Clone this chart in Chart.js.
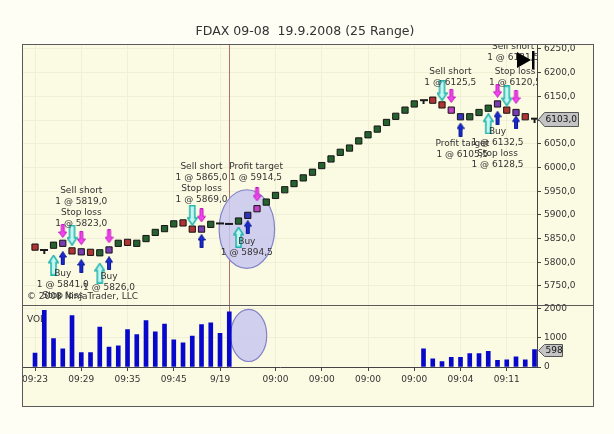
<!DOCTYPE html>
<html>
<head>
<meta charset="utf-8">
<script src="https://cdn.jsdelivr.net/npm/chart.js@4/dist/chart.umd.min.js"></script>
<style>
html,body{margin:0;padding:0;background:#fefef4;}
#wrap{width:614px;height:434px;}
</style>
</head>
<body>
<div id="wrap"><canvas id="c" width="614" height="434" style="width:614px;height:434px"></canvas></div>
<script>
// ---------------- data ----------------
const chartTitle = 'FDAX 09-08  19.9.2008 (25 Range)';
// range-bar closes (one per bar index 0..54)
const barPrice = [5832,5826,5836,5840,5824,5822,5821,5820,5826,5840,
                  5842,5840,5850,5863,5871,5881,5883,5870,5870,5880,
                  5882,5881,5887,5899,5913,5927,5941,5953,5966,5978,
                  5990,6004,6018,6032,6041,6056,6069,6081,6095,6108,
                  6121,6134,6142,6142,6132,6121,6107,6107,6116,6125,
                  6134,6121,6116,6107,6103];
// g=up, r=down, p/b/m=bar under execution marks, d=T doji, h=flat dash
const barKind = ['r','d','g','p','r','p','r','g','p','g',
                 'r','g','g','g','g','g','r','r','p','g',
                 'h','h','g','b','m','g','g','g','g','g',
                 'g','g','g','g','g','g','g','g','g','g',
                 'g','g','d','r','r','m','b','g','g','g',
                 'p','r','p','r','d'];
const volume = [480,1950,980,630,1770,500,500,1380,690,730,
                1290,1120,1600,1210,1480,940,830,1070,1460,1520,
                1160,1900,null,null,null,null,null,null,null,null,
                null,null,null,null,null,null,null,null,null,null,
                null,null,630,280,190,330,330,460,460,540,
                230,250,350,250,598];
const timeTickIdx = [0,5,10,15,20,26,31,36,41,46,51];
const timeTickLabels = ['09:23','09:29','09:35','09:45','9/19','09:00','09:00','09:00','09:00','09:04','09:11'];
const priceTicks = [5750,5800,5850,5900,5950,6000,6050,6100,6150,6200,6250];
const volTicks = [0,1000,2000];
const sessionBreakIdx = 21;
const lastPrice = 6103.0;
const lastVolume = 598;

// execution marks
const entryBuyIdx = [2,7,22,49];
const entryBuyPrice = [5794,5777,5853,6092];
const entryShortIdx = [4,17,44,51];
const entryShortPrice = [5857,5899,6162,6151];
const exitSellIdx = [3,5,8,18,24,45,50,52];
const exitSellPrice = [5866,5851,5855,5899,5943,6151,6162,6149];
const exitBuyIdx = [3,5,8,18,23,46,50,52];
const exitBuyPrice = [5809,5792,5798,5845,5874,6080,6105,6095];

// order notes (anchor bar index, price of first line, lines)
const noteIdx = [5,3,8,18,23.9,22.9,44.9,51.7,51.9,46.2,50];
const notePrice = [5952,5777,5769,6001,6001,5843,6203,6254,6203,6050,6075];
const noteLines = [
  ['Sell short','1 @ 5819,0','Stop loss','1 @ 5823,0'],
  ['Buy','1 @ 5841,0','Stop loss'],
  ['Buy','1 @ 5826,0'],
  ['Sell short','1 @ 5865,0','Stop loss','1 @ 5869,0'],
  ['Profit target','1 @ 5914,5'],
  ['Buy','1 @ 5894,5'],
  ['Sell short','1 @ 6125,5'],
  ['Sell short','1 @ 6131,5'],
  ['Stop loss','1 @ 6120,5'],
  ['Profit target','1 @ 6105,5'],
  ['Buy','1 @ 6132,5','Stop loss','1 @ 6128,5']
];
// highlight ellipses: centre index, centre value, half-width (bars), half-height (value units)
const priceEllipse = [22.9, 5870, 3.0, 83];
const volEllipse = [23.1, 1090, 1.95, 900];

// ---------------- drawing helpers ----------------
function arrowImg(dir, w, h, headH, shaftW, fill, stroke, lw) {
  const c = document.createElement('canvas'); c.width = w; c.height = h;
  const g = c.getContext('2d');
  if (dir === 'down') { g.translate(0, h); g.scale(1, -1); }
  const cx = w / 2, m = lw / 2;
  g.beginPath();
  g.moveTo(cx, m);
  g.lineTo(w - m, headH);
  g.lineTo(cx + shaftW / 2, headH);
  g.lineTo(cx + shaftW / 2, h - m);
  g.lineTo(cx - shaftW / 2, h - m);
  g.lineTo(cx - shaftW / 2, headH);
  g.lineTo(m, headH);
  g.closePath();
  g.fillStyle = fill; g.fill();
  g.strokeStyle = stroke; g.lineWidth = lw; g.stroke();
  return c;
}
function tImg(withStem) {
  const c = document.createElement('canvas'); c.width = 8; c.height = 8;
  const g = c.getContext('2d');
  g.fillStyle = '#1a1a1a';
  g.fillRect(0, 3, 8, 2);
  if (withStem) g.fillRect(3, 3, 2, 5);
  return c;
}
const imgBuy = arrowImg('up', 11, 21, 8, 5, '#c4f6f2', '#1fb3ad', 1.5);
const imgShort = arrowImg('down', 11, 21, 8, 5, '#c4f6f2', '#1fb3ad', 1.5);
const imgSell = arrowImg('down', 9, 14, 6, 3, '#f244ee', '#c21cc0', 1);
const imgBuyExit = arrowImg('up', 8, 14, 6, 3, '#1a2ad0', '#0b168e', 1);
const imgT = tImg(true);
const imgDash = tImg(false);
const kindColor = {g:'#266230', r:'#b03434', p:'#7a3cb2', b:'#3434b8', m:'#c340c4'};

const pts = (idx, vals) => idx.map((v, k) => ({x: v, y: vals[k]}));

const decoPlugin = {
  id: 'deco',
  beforeDraw(chart) {
    const {ctx, width, height, chartArea: a} = chart;
    ctx.save();
    ctx.fillStyle = '#fefef4'; ctx.fillRect(0, 0, width, height);
    ctx.fillStyle = '#fbfbe4';
    ctx.fillRect(a.left - 1, a.top - 1, a.right + 56 - a.left + 1, a.bottom + 39 - a.top + 1);
    ctx.restore();
  },
  beforeDatasetsDraw(chart) {
    const {ctx, chartArea: a, scales: {x, y, yv}} = chart;
    ctx.save();
    // session break line
    const sx = Math.round(x.getPixelForValue(sessionBreakIdx)) + 0.5;
    ctx.strokeStyle = '#b36f6f'; ctx.lineWidth = 1;
    ctx.beginPath(); ctx.moveTo(sx, a.top); ctx.lineTo(sx, a.bottom + 1); ctx.stroke();
    // ellipses
    const ell = (sc, e) => {
      const cx = x.getPixelForValue(e[0]), cy = sc.getPixelForValue(e[1]);
      const rx = Math.abs(x.getPixelForValue(e[0] + e[2]) - cx);
      const ry = Math.abs(sc.getPixelForValue(e[1] + e[3]) - cy);
      ctx.beginPath(); ctx.ellipse(cx, cy, rx, ry, 0, 0, Math.PI * 2);
      ctx.fillStyle = 'rgba(200,200,240,0.85)'; ctx.fill();
      ctx.strokeStyle = '#8282c8'; ctx.lineWidth = 1.2; ctx.stroke();
    };
    ell(y, priceEllipse);
    ell(yv, volEllipse);
    // VOL caption
    ctx.font = '9px "DejaVu Sans"'; ctx.fillStyle = '#333';
    ctx.textAlign = 'left'; ctx.textBaseline = 'middle';
    ctx.fillText('VOL', a.left + 4, yv.top + 15);
    ctx.restore();
  },
  afterDatasetsDraw(chart) {
    const {ctx, chartArea: a, scales: {x, y}} = chart;
    ctx.save();
    ctx.beginPath(); ctx.rect(a.left, a.top, a.right - a.left, y.bottom - a.top); ctx.clip();
    ctx.font = '9px "DejaVu Sans"'; ctx.fillStyle = '#333';
    ctx.textAlign = 'left'; ctx.textBaseline = 'middle';
    ctx.fillText('\u00A9 2008 NinjaTrader, LLC', a.left + 4, y.bottom - 7.5);
    ctx.textAlign = 'center';
    noteIdx.forEach((ix, k) => {
      const px = x.getPixelForValue(ix), py = y.getPixelForValue(notePrice[k]);
      noteLines[k].forEach((t, j) => ctx.fillText(t, px, py + j * 11));
    });
    ctx.restore();
  },
  afterDraw(chart) {
    const {ctx, chartArea: a, scales: {y, yv}} = chart;
    const L = a.left - 0.5, T = a.top - 0.5, R = a.right + 56 + 0.5, B = a.bottom + 39 + 0.5;
    ctx.save();
    ctx.strokeStyle = '#5a5a5a'; ctx.lineWidth = 1;
    ctx.strokeRect(L, T, R - L, B - T);
    const sy = Math.round(y.bottom) + 0.5;
    ctx.beginPath(); ctx.moveTo(L, sy); ctx.lineTo(R, sy); ctx.stroke();
    // chart-end marker
    ctx.fillStyle = '#000';
    ctx.beginPath();
    ctx.moveTo(a.right - 20, a.top + 7); ctx.lineTo(a.right - 20, a.top + 23); ctx.lineTo(a.right - 6, a.top + 15);
    ctx.closePath(); ctx.fill();
    ctx.fillRect(a.right - 5, a.top + 6, 2.5, 18);
    // last value tags
    const tag = (sc, v, text, w, h) => {
      const cy = Math.round(sc.getPixelForValue(v)) + 0.5, x0 = a.right + 1.5;
      ctx.beginPath();
      ctx.moveTo(x0, cy); ctx.lineTo(x0 + 6, cy - h / 2); ctx.lineTo(x0 + w, cy - h / 2);
      ctx.lineTo(x0 + w, cy + h / 2); ctx.lineTo(x0 + 6, cy + h / 2); ctx.closePath();
      ctx.fillStyle = '#c4c4c4'; ctx.fill();
      ctx.strokeStyle = '#555'; ctx.stroke();
      ctx.fillStyle = '#111'; ctx.font = '9px "DejaVu Sans"';
      ctx.textAlign = 'left'; ctx.textBaseline = 'middle';
      ctx.fillText(text, x0 + 7, cy + 0.5);
    };
    tag(y, lastPrice, lastPrice.toFixed(1).replace('.', ','), 40, 14);
    tag(yv, lastVolume, String(lastVolume), 24, 12);
    // title
    ctx.fillStyle = '#333'; ctx.font = '12.5px "DejaVu Sans"';
    ctx.textAlign = 'center'; ctx.textBaseline = 'middle';
    ctx.fillText(chartTitle, 305, 32);
    ctx.restore();
  }
};

Chart.defaults.font.family = '"DejaVu Sans", sans-serif';
Chart.defaults.font.size = 9;
Chart.defaults.color = '#333';

const gridCol = '#f0f0d7';
new Chart(document.getElementById('c'), {
  type: 'line',
  data: {
    datasets: [
      {label: 'Buy', data: pts(entryBuyIdx, entryBuyPrice), yAxisID: 'y', showLine: false, order: 1,
       pointStyle: imgBuy, pointRadius: 5, pointHoverRadius: 5},
      {label: 'Sell short', data: pts(entryShortIdx, entryShortPrice), yAxisID: 'y', showLine: false, order: 1,
       pointStyle: imgShort, pointRadius: 5, pointHoverRadius: 5},
      {label: 'Exit sell', data: pts(exitSellIdx, exitSellPrice), yAxisID: 'y', showLine: false, order: 2,
       pointStyle: imgSell, pointRadius: 5, pointHoverRadius: 5},
      {label: 'Exit buy', data: pts(exitBuyIdx, exitBuyPrice), yAxisID: 'y', showLine: false, order: 2,
       pointStyle: imgBuyExit, pointRadius: 5, pointHoverRadius: 5},
      {label: 'FDAX', data: barPrice.map((p, i) => ({x: i, y: p})), yAxisID: 'y', showLine: false, order: 5,
       pointStyle: c => barKind[c.dataIndex] === 'd' ? imgT : (barKind[c.dataIndex] === 'h' ? imgDash : 'rect'),
       pointRadius: 4.4, pointHoverRadius: 4.4, pointBorderWidth: 1, pointBorderColor: '#141414',
       pointBackgroundColor: c => kindColor[barKind[c.dataIndex]] || '#222'},
      {type: 'bar', label: 'VOL', yAxisID: 'yv', order: 6,
       data: volume.map((v, i) => v == null ? null : {x: i, y: v}).filter(Boolean),
       backgroundColor: '#0808cc', barThickness: 4}
    ]
  },
  options: {
    responsive: false, animation: false, devicePixelRatio: 1,
    layout: {padding: {left: 23, top: 45, right: 21, bottom: 28}},
    plugins: {legend: {display: false}, tooltip: {enabled: false}, title: {display: false}},
    scales: {
      x: {type: 'linear', position: 'bottom', min: -1.3, max: 54.27, offset: false,
          afterBuildTicks: s => { s.ticks = timeTickIdx.map(v => ({value: v})); },
          afterFit: s => { s.height = 39; },
          ticks: {autoSkip: false, maxRotation: 0, minRotation: 0, padding: 3, color: '#333',
                  callback: v => { const k = timeTickIdx.indexOf(v); return k >= 0 ? timeTickLabels[k] : ''; }},
          grid: {color: gridCol, tickColor: '#444', tickLength: 4, offset: false},
          border: {color: '#444'}},
      y: {type: 'linear', position: 'right', stack: 'panes', stackWeight: 259.5, min: 5710.9, max: 6258.4,
          afterBuildTicks: s => { s.ticks = priceTicks.map(v => ({value: v})); },
          afterFit: s => { s.width = 56; },
          ticks: {autoSkip: false, padding: 3, color: '#333', callback: v => v.toFixed(1).replace('.', ',')},
          grid: {color: gridCol, tickColor: '#444', tickLength: 4},
          border: {color: '#444'}},
      yv: {type: 'linear', position: 'right', stack: 'panes', stackWeight: 62.5, min: 0, max: 2155,
          afterBuildTicks: s => { s.ticks = volTicks.map(v => ({value: v})); },
          afterFit: s => { s.width = 56; },
          ticks: {autoSkip: false, padding: 3, color: '#333', callback: v => String(v)},
          grid: {color: gridCol, tickColor: '#444', tickLength: 4},
          border: {color: '#444'}}
    }
  },
  plugins: [decoPlugin]
});
</script>
</body>
</html>
